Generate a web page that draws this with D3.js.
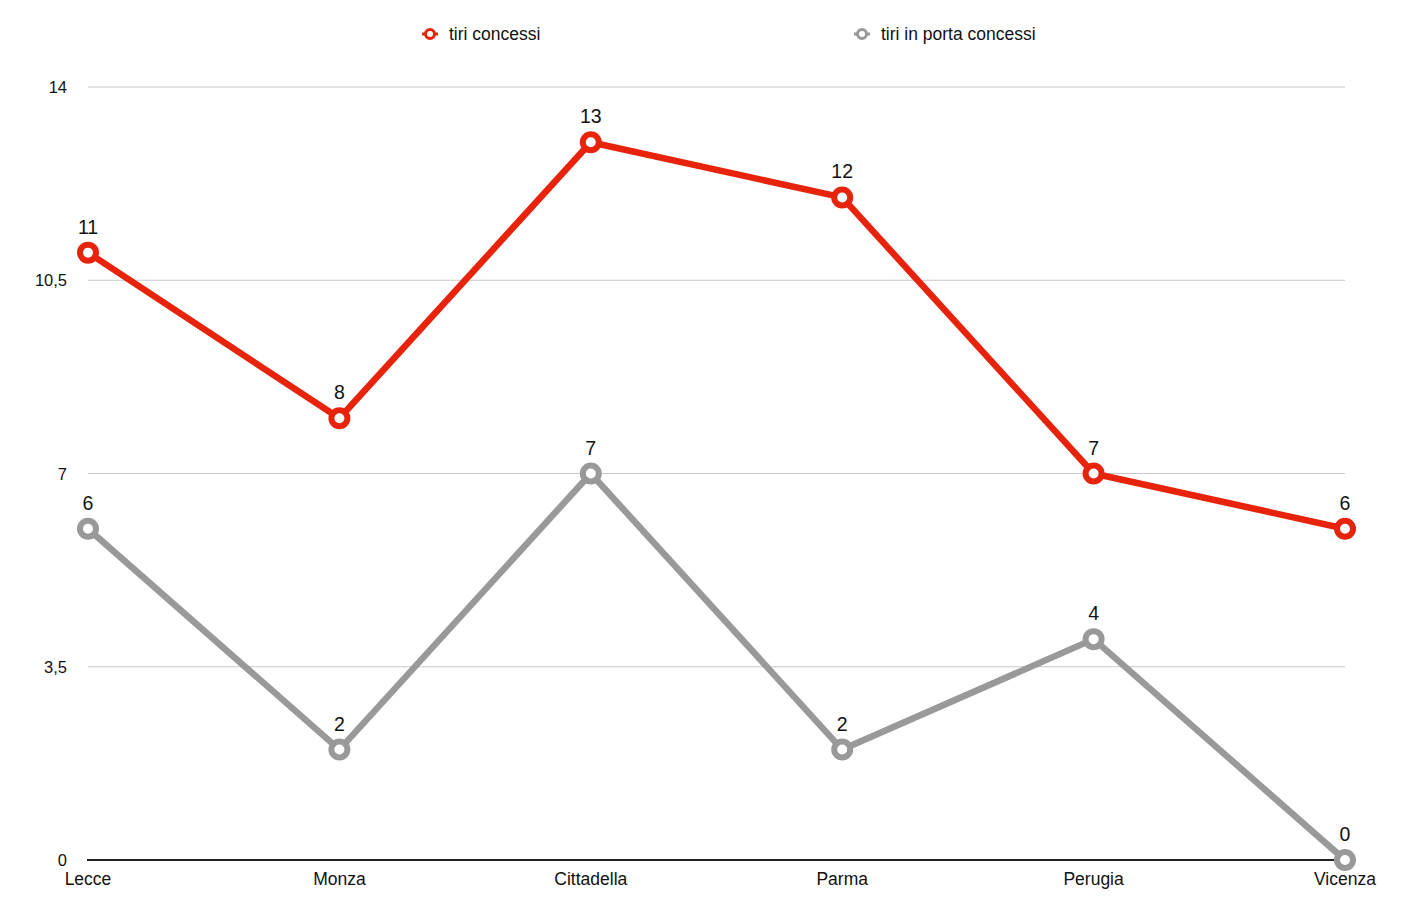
<!DOCTYPE html>
<html><head><meta charset="utf-8">
<script src="https://cdn.jsdelivr.net/npm/d3@7"></script>
<style>body{margin:0;background:#fff;font-family:"Liberation Sans",Helvetica,Arial,sans-serif;}</style>
</head><body><svg id="c" width="1403" height="914"></svg>
<script>
const categories = ["Lecce","Monza","Cittadella","Parma","Perugia","Vicenza"];
const tiriConcessi = [11,8,13,12,7,6];
const tiriInPorta = [6,2,7,2,4,0];
const yTicks = [0,3.5,7,10.5,14];
const seriesNames = ["tiri concessi","tiri in porta concessi"];
const colors = ["#e8230c","#999999"];

const svg = d3.select("#c");
const x = d3.scalePoint().domain(categories).range([88,1345]);
const y = d3.scaleLinear().domain([0,14]).range([860,87]);
const fmt = v => String(v).replace(".", ",");

// grid
svg.append("g").selectAll("line").data(yTicks.filter(t=>t>0)).join("line")
  .attr("x1",88).attr("x2",1345).attr("y1",d=>y(d)).attr("y2",d=>y(d))
  .attr("stroke","#c8c8c8").attr("stroke-width",1);
// y labels
svg.append("g").selectAll("text").data(yTicks).join("text")
  .attr("x",67).attr("y",d=>y(d)+6).attr("text-anchor","end")
  .attr("font-size",16.5).attr("fill","#111").text(fmt);
// x axis line
svg.append("line").attr("x1",87).attr("x2",1345).attr("y1",y(0)).attr("y2",y(0))
  .attr("stroke","#222").attr("stroke-width",2);
// x labels
svg.append("g").selectAll("text").data(categories).join("text")
  .attr("x",d=>x(d)).attr("y",885).attr("text-anchor","middle")
  .attr("font-size",17.5).attr("fill","#111").text(d=>d);

const line = d3.line().x((d,i)=>x(categories[i])).y(d=>y(d));
const series = [tiriInPorta, tiriConcessi];
const scol = [colors[1], colors[0]];
series.forEach((s,k)=>{
  svg.append("path").datum(s).attr("d",line).attr("fill","none")
    .attr("stroke",scol[k]).attr("stroke-width",6.5).attr("stroke-linejoin","round");
});
series.forEach((s,k)=>{
  const g = svg.append("g");
  g.selectAll("circle").data(s).join("circle")
    .attr("cx",(d,i)=>x(categories[i])).attr("cy",d=>y(d)).attr("r",8)
    .attr("fill","#fff").attr("stroke",scol[k]).attr("stroke-width",6);
  g.selectAll("text").data(s).join("text")
    .attr("x",(d,i)=>x(categories[i])).attr("y",d=>y(d)-19).attr("text-anchor","middle")
    .attr("font-size",19.5).attr("fill","#111").text(d=>d);
});

// legend
const legX = [430, 862];
seriesNames.forEach((n,k)=>{
  const g = svg.append("g");
  g.append("line").attr("x1",legX[k]-8).attr("x2",legX[k]+8).attr("y1",34).attr("y2",34)
    .attr("stroke",colors[k]).attr("stroke-width",3);
  g.append("circle").attr("cx",legX[k]).attr("cy",34).attr("r",4.5)
    .attr("fill","#fff").attr("stroke",colors[k]).attr("stroke-width",3);
  g.append("text").attr("x",legX[k]+19).attr("y",40).attr("font-size",17.5)
    .attr("fill","#111").text(n);
});
</script></body></html>
